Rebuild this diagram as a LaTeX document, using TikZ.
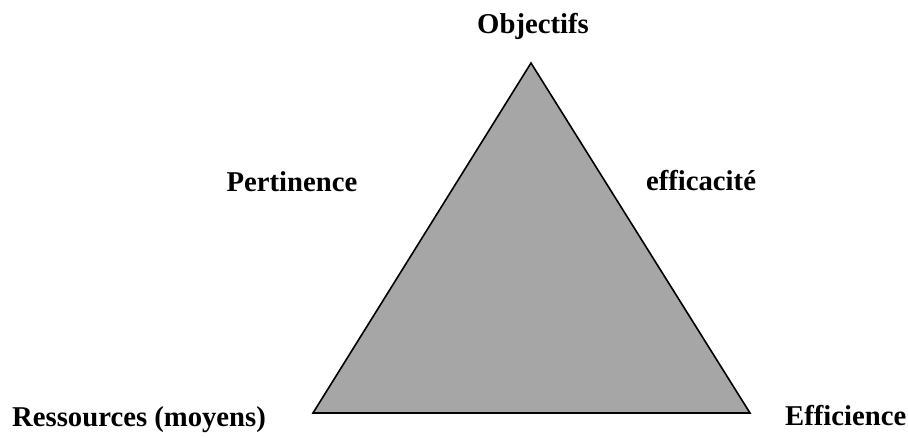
\documentclass[tikz,border=0pt]{standalone}
\usepackage{fontspec}
\setmainfont{Liberation Serif}
\begin{document}
\begin{tikzpicture}[x=1pt,y=-1pt,
  lbl/.style={inner sep=0pt,anchor=base,font=\fontsize{28.7}{30}\selectfont\bfseries},
  tri/.style={draw=black,line width=1.6pt,fill=gray!70,line join=miter}]
\useasboundingbox (0,0) rectangle (908,437);
% vertices of the triangle
\coordinate (top) at (531,63);
\coordinate (bl) at (313,413);
\coordinate (br) at (750,413);
\draw[tri] (top) -- (bl) -- (br) -- cycle;
% labels
\node[lbl] (obj) at (533,33) {Objectifs};
\node[lbl] (pert) at (292,191) {Pertinence};
\node[lbl] (effic) at (701,190) {efficacité};
\node[lbl,anchor=base west] (res) at (12,426) {Ressources (moyens)};
\node[lbl,anchor=base west] (eff) at (785,425) {Efficience};
\end{tikzpicture}
\end{document}
